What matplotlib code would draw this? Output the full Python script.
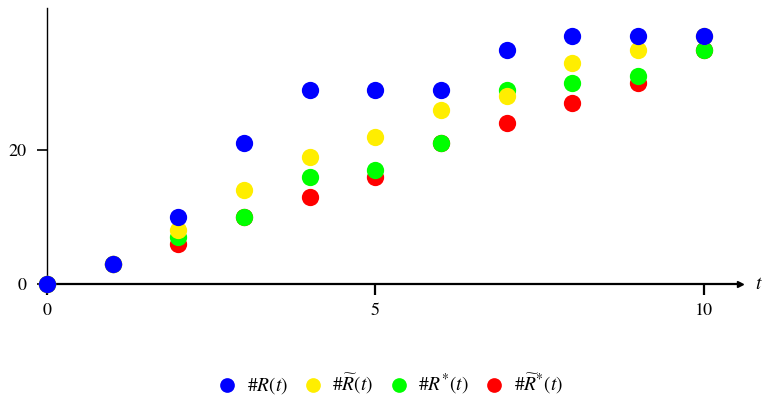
import numpy as np
import matplotlib
matplotlib.use("Agg")
import matplotlib.pyplot as plt

plt.rcParams.update({
    "font.family": "STIXGeneral", "mathtext.fontset": "stix", "font.size": 13,
})

t = np.arange(0, 11)
R = [0, 3, 10, 21, 29, 29, 29, 35, 37, 37, 37]
R_tilde = [0, 3, 8, 14, 19, 22, 26, 28, 33, 35, 37]
R_star = [0, 3, 7, 10, 16, 17, 21, 29, 30, 31, 35]
R_tilde_star = [0, 3, 6, 10, 13, 16, 21, 24, 27, 30, 35]
labels = ["#$R(t)$", r"#$\widetilde{R}(t)$", "#$R^{*}(t)$", r"#$\widetilde{R}^{*}(t)$"]

C_B = "#0000ff"; C_Y = "#ffee00"; C_G = "#00ff00"; C_R = "#ff0000"

fig = plt.figure(figsize=(7.68, 3.99), dpi=100)
ax = fig.add_axes([47 / 768, 115 / 399, 693 / 768, 276 / 399])

S = 155
# drawing order: red under green under yellow under blue
h_r = ax.scatter(t, R_tilde_star, s=S, color=C_R, lw=0, clip_on=False, zorder=3)
h_g = ax.scatter(t, R_star, s=S, color=C_G, lw=0, clip_on=False, zorder=4)
h_y = ax.scatter(t, R_tilde, s=S, color=C_Y, lw=0, clip_on=False, zorder=5)
h_b = ax.scatter(t, R, s=S, color=C_B, lw=0, clip_on=False, zorder=6)

ax.set_xlim(0, 10.55)
ax.set_ylim(0, 41.2)
ax.spines[["top", "right"]].set_visible(False)
ax.spines["left"].set_linewidth(1.0)
ax.spines["bottom"].set_linewidth(1.6)
ax.set_xticks([0, 5, 10])
ax.set_yticks([0, 20])
ax.tick_params(axis="x", length=8, width=1.6, pad=6, labelsize=13)
ax.tick_params(axis="y", length=7, width=1.2, pad=8, labelsize=13)
ax.plot(1, 0, ">k", ms=4, transform=ax.get_yaxis_transform(), clip_on=False)
ax.text(1.022, 0, "$t$", transform=ax.get_yaxis_transform(), va="center", ha="left", fontsize=14)

fig.legend([h_b, h_y, h_g, h_r], labels,
           loc="center", bbox_to_anchor=(0.508, 15 / 399), ncol=4, frameon=False,
           handlelength=1.0, handletextpad=0.5, columnspacing=0.8, fontsize=14,
           scatterpoints=1, markerscale=0.85)

fig.savefig("out.png", dpi=100)
